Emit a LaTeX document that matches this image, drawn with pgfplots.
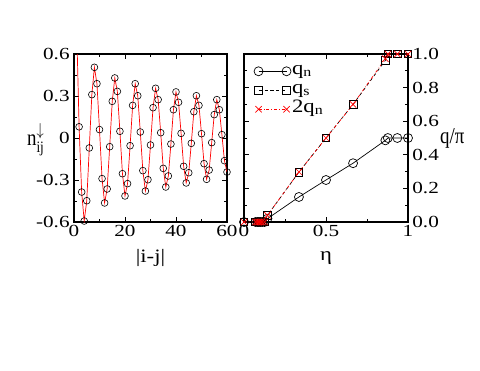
\documentclass[border=0pt]{standalone}
\usepackage{amsmath}
\usepackage{graphicx}
\usepackage{fontspec}
\setmainfont{Liberation Serif}
\usepackage{pgfplots}
\pgfplotsset{compat=1.18}

\newcommand{\lgf}{\fontsize{17}{17}\selectfont}
\newcommand{\lbf}{\fontsize{19}{19}\selectfont}
\newcommand{\leg}[1]{\lbf\scalebox{1.2}[1]{#1}}
\pgfplotsset{
  panel/.style={
    scale only axis,
    anchor=south west,
    tick align=inside,
    major tick length=5bp,
    minor tick length=3bp,
    every tick/.style={black, line width=0.9bp},
    axis line style={line width=1.1bp},
    tick label style={font=\lgf, xscale=1.25},
    label style={font=\lbf, xscale=1.2},
    /pgf/number format/assume math mode=true,
  },
}

\begin{document}
\begin{tikzpicture}
\path[use as bounding box] (0bp,0bp) rectangle (480bp,-371bp);

% left panel: density correlation
\begin{axis}[panel,
  at={(74bp,-222bp)}, width=153bp, height=168bp,
  xmin=0, xmax=60, ymin=-0.6, ymax=0.6,
  xtick={0,20,40,60}, xticklabels={0,20,40,60},
  minor xtick={10,30,50},
  ytick={-0.6,-0.3,0,0.3,0.6}, yticklabels={-0.6,-0.3,0,0.3,0.6},
  minor ytick={-0.45,-0.15,0.15,0.45},
  xlabel={|i-j|},
  ylabel={$\textrm{n}^{\downarrow}_{\textrm{ij}}$},
  xlabel style={at={(axis description cs:0.5,-0.215)}, anchor=center},
  ylabel style={at={(axis description cs:-0.25,0.49)}, anchor=center, rotate=-90},
]
\addplot[red, line width=0.7bp, mark=o, mark size=3.4bp,
  mark options={black, solid, line width=0.6bp}] coordinates {
(1,0.82) (2,0.08) (3,-0.386) (4,-0.593) (5,-0.448) (6,-0.071) (7,0.31) (8,0.505)
(9,0.388) (10,0.06) (11,-0.29) (12,-0.464) (13,-0.364) (14,-0.062) (15,0.262) (16,0.429)
(17,0.333) (18,0.048) (19,-0.255) (20,-0.414) (21,-0.326) (22,-0.055) (23,0.233) (24,0.388)
(25,0.302) (26,0.043) (27,-0.233) (28,-0.379) (29,-0.298) (30,-0.05) (31,0.217) (32,0.355)
(33,0.274) (34,0.038) (35,-0.217) (36,-0.35) (37,-0.271) (38,-0.043) (39,0.202) (40,0.329)
(41,0.255) (42,0.033) (43,-0.202) (44,-0.321) (45,-0.248) (46,-0.038) (47,0.188) (48,0.302)
(49,0.233) (50,0.031) (51,-0.183) (52,-0.295) (53,-0.229) (54,-0.033) (55,0.167) (56,0.274)
(57,0.202) (58,0.024) (59,-0.162) (60,-0.243)
};
\end{axis}

% right panel: wave vectors
\begin{axis}[panel,
  at={(244bp,-222bp)}, width=164bp, height=168bp,
  xmin=0, xmax=1, ymin=0, ymax=1,
  clip=false,
  xtick={0,0.5,1}, xticklabels={0,0.5,1},
  minor xtick={0.25,0.75},
  ytick={0,0.2,0.4,0.6,0.8,1}, yticklabels={0.0,0.2,0.4,0.6,0.8,1.0},
  minor ytick={0.1,0.3,0.5,0.7,0.9},
  yticklabel pos=right,
  xlabel={η},
  ylabel={q/π},
  xlabel style={at={(axis description cs:0.5,-0.215)}, anchor=center},
  ylabel style={at={(axis description cs:1.27,0.5)}, anchor=center, rotate=-90},
  legend style={at={(axis description cs:0.06,0.94)}, anchor=north west,
    draw=none, fill=none, row sep=5bp, inner sep=0bp,
    nodes={inner sep=1bp, text height=9bp, text depth=3bp}},
  legend cell align=left,
  legend image code/.code={
    \draw[mark repeat=2, mark phase=1, #1]
      plot coordinates {(0bp,0bp) (14bp,0bp) (28bp,0bp)};},
]
\addplot[black, line width=0.7bp, mark=o, mark size=4.5bp,
  mark options={solid}] coordinates {
(0,0) (0.071,0) (0.083,0) (0.091,0) (0.1,0) (0.111,0) (0.125,0) (0.143,0.02)
(0.335,0.149) (0.5,0.25) (0.665,0.35) (0.862,0.486) (0.877,0.5) (0.935,0.5) (1,0.5)
};
\addlegendentry{\leg{q\textsubscript{n}}}
\addplot[black, line width=0.7bp, dashed, mark=square, mark size=3.8bp,
  mark options={solid}] coordinates {
(0,0) (0.071,0) (0.083,0) (0.091,0) (0.1,0) (0.111,0) (0.125,0) (0.143,0.04)
(0.335,0.297) (0.5,0.5) (0.665,0.70) (0.862,0.962) (0.877,1) (0.935,1) (1,1)
};
\addlegendentry{\leg{q\textsubscript{s}}}
\addplot[red, line width=0.7bp, dash dot, mark=x, mark size=4.5bp,
  mark options={solid}] coordinates {
(0,0) (0.071,0) (0.083,0) (0.091,0) (0.1,0) (0.111,0) (0.125,0) (0.143,0.04)
(0.335,0.298) (0.5,0.5) (0.665,0.70) (0.862,0.972) (0.877,1) (0.935,1) (1,1)
};
\addlegendentry{\leg{2q\textsubscript{n}}}
\end{axis}
\end{tikzpicture}
\end{document}
